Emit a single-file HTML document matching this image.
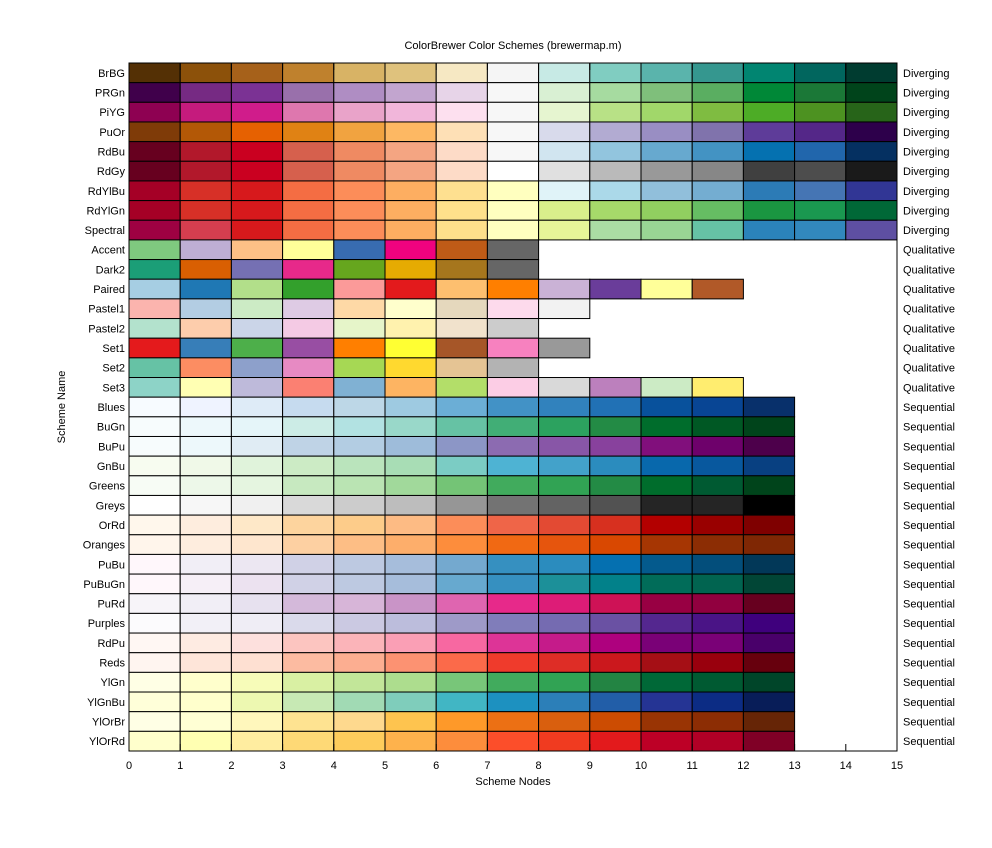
<!DOCTYPE html>
<html><head><meta charset="utf-8"><style>
body{margin:0;background:#fff;font-family:"Liberation Sans",sans-serif;}
svg text{font-family:"Liberation Sans",sans-serif;font-size:11px;fill:#000;}
</style></head><body>
<svg id="chart" width="992" height="843" xmlns="http://www.w3.org/2000/svg">
<rect width="992" height="843" fill="#fff"/>
<text x="513" y="49" text-anchor="middle">ColorBrewer Color Schemes (brewermap.m)</text>
<text x="513" y="785" text-anchor="middle">Scheme Nodes</text>
<text x="0" y="0" text-anchor="middle" transform="translate(65,407) rotate(-90)">Scheme Name</text>
<g id="cells"></g><g id="labels"></g><g id="axis"></g>
</svg>
<script>
const schemeNames=["BrBG","PRGn","PiYG","PuOr","RdBu","RdGy","RdYlBu","RdYlGn","Spectral","Accent","Dark2","Paired","Pastel1","Pastel2","Set1","Set2","Set3","Blues","BuGn","BuPu","GnBu","Greens","Greys","OrRd","Oranges","PuBu","PuBuGn","PuRd","Purples","RdPu","Reds","YlGn","YlGnBu","YlOrBr","YlOrRd"];
const schemeTypes=["Diverging","Diverging","Diverging","Diverging","Diverging","Diverging","Diverging","Diverging","Diverging","Qualitative","Qualitative","Qualitative","Qualitative","Qualitative","Qualitative","Qualitative","Qualitative","Sequential","Sequential","Sequential","Sequential","Sequential","Sequential","Sequential","Sequential","Sequential","Sequential","Sequential","Sequential","Sequential","Sequential","Sequential","Sequential","Sequential","Sequential"];
const schemeColors=[
"543005 8c510a a6611a bf812d d8b365 dfc27d f6e8c3 f5f5f5 c7eae5 80cdc1 5ab4ac 35978f 018571 01665e 003c30",
"40004b 762a83 7b3294 9970ab af8dc3 c2a5cf e7d4e8 f7f7f7 d9f0d3 a6dba0 7fbf7b 5aae61 008837 1b7837 00441b",
"8e0152 c51b7d d01c8b de77ae e9a3c9 f1b6da fde0ef f7f7f7 e6f5d0 b8e186 a1d76a 7fbc41 4dac26 4d9221 276419",
"7f3b08 b35806 e66101 e08214 f1a340 fdb863 fee0b6 f7f7f7 d8daeb b2abd2 998ec3 8073ac 5e3c99 542788 2d004b",
"67001f b2182b ca0020 d6604d ef8a62 f4a582 fddbc7 f7f7f7 d1e5f0 92c5de 67a9cf 4393c3 0571b0 2166ac 053061",
"67001f b2182b ca0020 d6604d ef8a62 f4a582 fddbc7 ffffff e0e0e0 bababa 999999 878787 404040 4d4d4d 1a1a1a",
"a50026 d73027 d7191c f46d43 fc8d59 fdae61 fee090 ffffbf e0f3f8 abd9e9 91bfdb 74add1 2c7bb6 4575b4 313695",
"a50026 d73027 d7191c f46d43 fc8d59 fdae61 fee08b ffffbf d9ef8b a6d96a 91cf60 66bd63 1a9641 1a9850 006837",
"9e0142 d53e4f d7191c f46d43 fc8d59 fdae61 fee08b ffffbf e6f598 abdda4 99d594 66c2a5 2b83ba 3288bd 5e4fa2",
"7fc97f beaed4 fdc086 ffff99 386cb0 f0027f bf5b17 666666",
"1b9e77 d95f02 7570b3 e7298a 66a61e e6ab02 a6761d 666666",
"a6cee3 1f78b4 b2df8a 33a02c fb9a99 e31a1c fdbf6f ff7f00 cab2d6 6a3d9a ffff99 b15928",
"fbb4ae b3cde3 ccebc5 decbe4 fed9a6 ffffcc e5d8bd fddaec f2f2f2",
"b3e2cd fdcdac cbd5e8 f4cae4 e6f5c9 fff2ae f1e2cc cccccc",
"e41a1c 377eb8 4daf4a 984ea3 ff7f00 ffff33 a65628 f781bf 999999",
"66c2a5 fc8d62 8da0cb e78ac3 a6d854 ffd92f e5c494 b3b3b3",
"8dd3c7 ffffb3 bebada fb8072 80b1d3 fdb462 b3de69 fccde5 d9d9d9 bc80bd ccebc5 ffed6f",
"f7fbff eff3ff deebf7 c6dbef bdd7e7 9ecae1 6baed6 4292c6 3182bd 2171b5 08519c 084594 08306b",
"f7fcfd edf8fb e5f5f9 ccece6 b2e2e2 99d8c9 66c2a4 41ae76 2ca25f 238b45 006d2c 005824 00441b",
"f7fcfd edf8fb e0ecf4 bfd3e6 b3cde3 9ebcda 8c96c6 8c6bb1 8856a7 88419d 810f7c 6e016b 4d004b",
"f7fcf0 f0f9e8 e0f3db ccebc5 bae4bc a8ddb5 7bccc4 4eb3d3 43a2ca 2b8cbe 0868ac 08589e 084081",
"f7fcf5 edf8e9 e5f5e0 c7e9c0 bae4b3 a1d99b 74c476 41ab5d 31a354 238b45 006d2c 005a32 00441b",
"ffffff f7f7f7 f0f0f0 d9d9d9 cccccc bdbdbd 969696 737373 636363 525252 252525 252525 000000",
"fff7ec feedde fee8c8 fdd49e fdcc8a fdbb84 fc8d59 ef6548 e34a33 d7301f b30000 990000 7f0000",
"fff5eb feedde fee6ce fdd0a2 fdbe85 fdae6b fd8d3c f16913 e6550d d94801 a63603 8c2d04 7f2704",
"fff7fb f1eef6 ece7f2 d0d1e6 bdc9e1 a6bddb 74a9cf 3690c0 2b8cbe 0570b0 045a8d 034e7b 023858",
"fff7fb f6eff7 ece2f0 d0d1e6 bdc9e1 a6bddb 67a9cf 3690c0 1c9099 02818a 016c59 016450 014636",
"f7f4f9 f1eef6 e7e1ef d4b9da d7b5d8 c994c7 df65b0 e7298a dd1c77 ce1256 980043 91003f 67001f",
"fcfbfd f2f0f7 efedf5 dadaeb cbc9e2 bcbddc 9e9ac8 807dba 756bb1 6a51a3 54278f 4a1486 3f007d",
"fff7f3 feebe2 fde0dd fcc5c0 fbb4b9 fa9fb5 f768a1 dd3497 c51b8a ae017e 7a0177 7a0177 49006a",
"fff5f0 fee5d9 fee0d2 fcbba1 fcae91 fc9272 fb6a4a ef3b2c de2d26 cb181d a50f15 99000d 67000d",
"ffffe5 ffffcc f7fcb9 d9f0a3 c2e699 addd8e 78c679 41ab5d 31a354 238443 006837 005a32 004529",
"ffffd9 ffffcc edf8b1 c7e9b4 a1dab4 7fcdbb 41b6c4 1d91c0 2c7fb8 225ea8 253494 0c2c84 081d58",
"ffffe5 ffffd4 fff7bc fee391 fed98e fec44f fe9929 ec7014 d95f0e cc4c02 993404 8c2d04 662506",
"ffffcc ffffb2 ffeda0 fed976 fecc5c feb24c fd8d3c fc4e2a f03b20 e31a1c bd0026 b10026 800026"];
const xTicks=[0,1,2,3,4,5,6,7,8,9,10,11,12,13,14,15];

const NS="http://www.w3.org/2000/svg";
const L=129,R=897,T=63,B=751;
const xs=v=>L+(R-L)*v/15;
const rowH=(B-T)/schemeNames.length;
const ys=i=>T+rowH*i;
function mk(tag,attrs,parent){const e=document.createElementNS(NS,tag);for(const k in attrs)e.setAttribute(k,attrs[k]);parent.appendChild(e);return e;}
const cells=document.getElementById('cells'),labels=document.getElementById('labels'),axis=document.getElementById('axis');
schemeNames.forEach((name,i)=>{
  const cols=schemeColors[i].split(' ');
  cols.forEach((c,j)=>{
    const r=mk('rect',{x:xs(j),y:ys(i),width:xs(j+1)-xs(j),height:rowH,fill:'#'+c,stroke:'#000','stroke-width':1},cells);
    
    
  });
  const t=mk('text',{x:L-4,y:ys(i)+rowH/2+4,'text-anchor':'end'},labels);
  t.textContent=name;
  
  
  const t2=mk('text',{x:R+6,y:ys(i)+rowH/2+4},labels);
  t2.textContent=schemeTypes[i];
  
  
});
const box=mk('rect',{x:L,y:T,width:R-L,height:B-T,fill:'none',stroke:'#000','stroke-width':1},axis);


xTicks.forEach(v=>{
  mk('line',{x1:xs(v),x2:xs(v),y1:B,y2:B-7,stroke:'#000'},axis);
  mk('line',{x1:xs(v),x2:xs(v),y1:T,y2:T+7,stroke:'#000'},axis);
  const t=mk('text',{x:xs(v),y:B+18,'text-anchor':'middle'},axis);
  t.textContent=v;
  
  
});
</script>
</body></html>
